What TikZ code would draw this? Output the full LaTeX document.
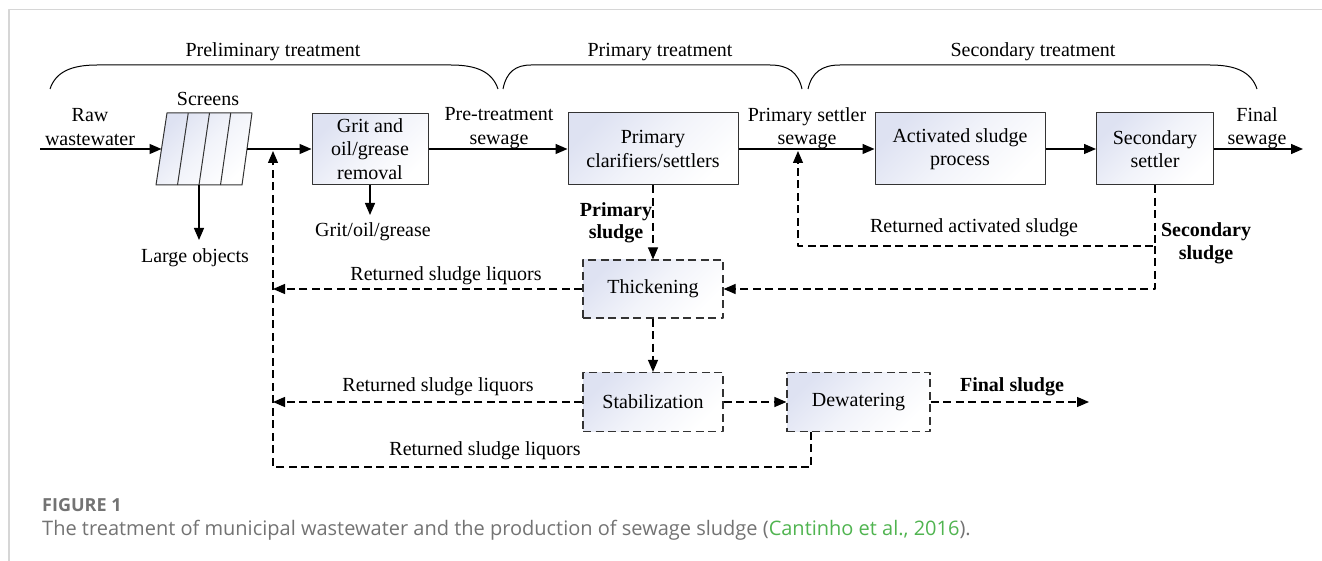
\documentclass[tikz,border=0pt]{standalone}
\usepackage{fontspec}
\setmainfont{Liberation Serif}
\newfontfamily\capfont{Open Sans}
\usetikzlibrary{arrows.meta}
\definecolor{boxtint}{RGB}{222,226,242}
\definecolor{capgray}{RGB}{115,115,115}
\definecolor{citegreen}{RGB}{80,180,80}
\definecolor{framegray}{RGB}{214,214,214}
\newcommand{\phasebrace}[4]{\draw[line width=1pt] (#1,89) .. controls ({#1+0.12*#3},72) and ({#1+0.45*#3},65) .. ({#1+#3},65) -- ({#2-#4},65) .. controls ({#2-0.45*#4},65) and ({#2-0.12*#4},72) .. (#2,89);}
\begin{document}
\begin{tikzpicture}[x=1pt, y=-1pt, font=\fontsize{20}{23.5}\selectfont, line join=round, >={Triangle[length=12pt,width=10pt]},
    unit/.style={draw=black!80, line width=1pt, top color=boxtint, bottom color=white, middle color=white!60!boxtint, shading angle=45, align=center, inner sep=0pt},
    sunit/.style={unit, line width=1.2pt, dash pattern=on 8pt off 4.5pt},
    flow/.style={line width=1.3pt},
    ret/.style={line width=1.2pt, dash pattern=on 8pt off 4.5pt},
    lbl/.style={align=center, inner sep=0pt}]
  \useasboundingbox (0,0) rectangle (1322,561);
  \draw[framegray, line width=1.5pt] (9,561) -- (9,9.5) -- (1322,9.5);

  \phasebrace{50}{498}{47}{47}
  \phasebrace{503}{802}{28}{32}
  \phasebrace{808}{1257}{32}{47}
  \node[lbl] (prelim) at (273,52) {Preliminary treatment};
  \node[lbl] (primt) at (660,52) {Primary treatment};
  \node[lbl] (secdt) at (1033,52) {Secondary treatment};

  \shade[top color=boxtint, bottom color=white, middle color=white!60!boxtint, shading angle=45] (167,113) -- (252,113) -- (242,185) -- (156,185) -- cycle;
  \draw[line width=1pt, black!80] (167,113) -- (252,113) -- (242,185) -- (156,185) -- cycle;
  \foreach \i in {1,2,3}
    \draw[line width=1pt, black!80] ({167+21.25*\i},113) -- ({156+21.5*\i},185);
  \node[lbl] (scrlbl) at (208,99) {Screens};
  \coordinate (scrin) at (161.5,149);
  \coordinate (scrout) at (247,149);
  \coordinate (scrbot) at (199,185);

  \node[unit, minimum width=116pt, minimum height=71pt] (grit) at (370,149) {Grit and\\oil/grease\\removal};
  \node[unit, minimum width=170pt, minimum height=72pt] (prim) at (653,149) {Primary\\clarifiers/settlers};
  \node[unit, minimum width=170pt, minimum height=72pt] (act) at (960,149) {Activated sludge\\process};
  \node[unit, minimum width=117pt, minimum height=72pt] (sec) at (1155,149) {Secondary\\settler};
  \node[sunit, minimum width=140pt, minimum height=58pt] (thick) at (653,289) {Thickening};
  \node[sunit, minimum width=140pt, minimum height=59pt] (stab) at (653,402) {Stabilization};
  \node[sunit, minimum width=143pt, minimum height=59pt] (dew) at (858.5,402) {Dewatering};

  \node[lbl] (rawlbl) at (90,127) {Raw\\wastewater};
  \node[lbl] (prelbl) at (499,128) {Pre-treatment\\sewage};
  \node[lbl] (pslbl) at (807,128) {Primary settler\\sewage};
  \node[lbl] (fslbl) at (1257,128) {Final\\sewage};
  \node[lbl] (lobj) at (195,258) {Large objects};
  \node[lbl] (grease) at (373,232) {Grit/oil/grease};
  \node[lbl, font=\fontsize{20}{22}\selectfont\bfseries] (psl) at (616,223) {Primary\\sludge};
  \node[lbl, font=\fontsize{20}{23}\selectfont\bfseries] (ssl) at (1206,243) {Secondary\\sludge};
  \node[lbl] (raslbl) at (974,228) {Returned activated sludge};
  \node[lbl] (liqa) at (446,276) {Returned sludge liquors};
  \node[lbl] (liqb) at (438,387) {Returned sludge liquors};
  \node[lbl] (liqc) at (485,451) {Returned sludge liquors};
  \node[lbl, font=\fontsize{20}{23}\selectfont\bfseries] (fsludge) at (1012,387) {Final sludge};

  \coordinate (rawin) at (40,149);
  \coordinate (finout) at (1303,149);
  \coordinate (lobjin) at (199,240);
  \coordinate (gritout) at (370,215);
  \coordinate (fsout) at (1089,402);
  \coordinate (sjoin) at (1155,246);
  \coordinate (rasin) at (798,151);
  \coordinate (liq1) at (273,289);
  \coordinate (liq2) at (273,402);
  \coordinate (dewout) at (811,431.5);
  \coordinate (liqbot) at (273,467);
  \coordinate (liqin) at (273,151);

  \draw[flow,->] (rawin) -- (scrin);
  \draw[flow,->] (scrout) -- (grit);
  \draw[flow,->] (grit) -- (prim);
  \draw[flow,->] (prim) -- (act);
  \draw[flow,->] (act) -- (sec);
  \draw[flow,->] (sec) -- (finout);
  \draw[flow,->] (scrbot) -- (lobjin);
  \draw[flow,->] (grit) -- (gritout);

  \draw[ret,->] (prim) -- (thick);
  \draw[ret,->] (thick) -- (stab);
  \draw[ret,->] (stab) -- (dew);
  \draw[ret,->] (dew) -- (fsout);
  \draw[ret,->] (sec) -- (sjoin) -| (rasin);
  \draw[ret,->] (sjoin) |- (thick);
  \draw[ret,->] (thick) -- (liq1);
  \draw[ret,->] (stab) -- (liq2);
  \draw[ret,->] (dewout) |- (liqbot) -- (liqin);

  \node[anchor=base west, inner sep=0pt, text=capgray, font=\capfont\fontsize{18}{20}\selectfont\bfseries] (figno) at (42,511) {FIGURE 1};
  \node[anchor=base west, inner sep=0pt, text=capgray, font=\capfont\fontsize{20}{22}\selectfont] (capt) at (42,535) {The treatment of municipal wastewater and the production of sewage sludge (\textcolor{citegreen}{Cantinho et al., 2016}).};
\end{tikzpicture}
\end{document}
